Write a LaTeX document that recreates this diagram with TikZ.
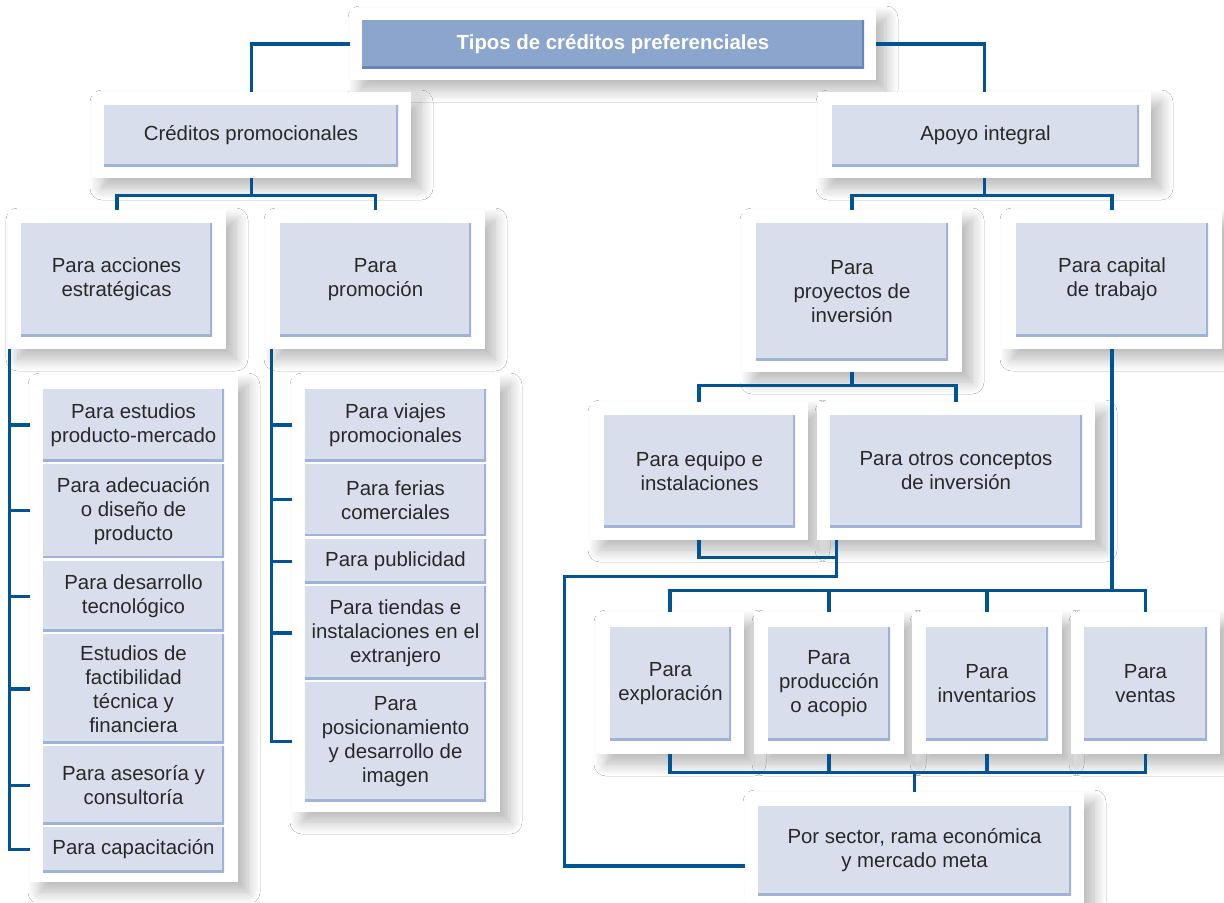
\documentclass[tikz,border=0pt]{standalone}
\usepackage{fontspec}
\setmainfont{Liberation Sans}
\usepackage{tikz}
\usetikzlibrary{positioning, shadows.blur}
\definecolor{linkblue}{RGB}{0,84,147}
\definecolor{cellfill}{RGB}{217,222,236}
\definecolor{celledge}{RGB}{160,178,214}
\definecolor{topfill}{RGB}{139,165,204}
\definecolor{topedge}{RGB}{104,134,186}
\definecolor{textgray}{RGB}{40,40,40}

\tikzset{
  frame/.style={fill=white, inner sep=0pt,
    blur shadow={shadow xshift=5pt, shadow yshift=-5pt, shadow blur steps=12,
                 shadow blur radius=6pt, shadow opacity=28}},
  cell/.style={fill=cellfill, text=textgray, align=center, inner sep=0pt,
    font=\fontsize{10.2}{12}\selectfont,
    path picture={\draw[celledge, line width=2.2pt]
      (path picture bounding box.south west) -- (path picture bounding box.south east)
      -- (path picture bounding box.north east);}},
  topcell/.style={cell, fill=topfill, text=white, font=\bfseries\fontsize{10.2}{12}\selectfont,
    path picture={\draw[topedge, line width=2.2pt]
      (path picture bounding box.south west) -- (path picture bounding box.south east)
      -- (path picture bounding box.north east);}},
  link/.style={draw=linkblue, line width=1.6pt}
}

\begin{document}
\begin{tikzpicture}[x=0.5pt, y=-0.5pt]
  \useasboundingbox (0,0) rectangle (1224,902);
  \clip (0,0) rectangle (1224,902);
  \fill[white] (0,0) rectangle (1224,902);

  % Title
  \node[frame, minimum width=263pt, minimum height=36pt] (fTop) at (613,44) {};
  \node[topcell, minimum width=251pt, minimum height=24pt] (cTop) at (613,44)
    {Tipos de créditos preferenciales};

  % First level
  \node[frame, minimum width=159.5pt, minimum height=43pt] (fCP) at (251.5,135) {};
  \node[cell, minimum width=147pt, minimum height=30.5pt] (cCP) at (251,135.5)
    {Créditos promocionales};
  \node[frame, minimum width=166.5pt, minimum height=43pt] (fAI) at (984.5,135) {};
  \node[cell, minimum width=153.5pt, minimum height=30.5pt] (cAI) at (985.5,135.5)
    {Apoyo integral};

  % Second level
  \node[frame, minimum width=109pt, minimum height=69.5pt] (fAcc) at (117,279.5) {};
  \node[cell, minimum width=95.5pt, minimum height=56.5pt] (cAcc) at (116.5,279.5)
    {Para acciones\\estratégicas};
  \node[frame, minimum width=109.5pt, minimum height=69.5pt] (fProm) at (375.5,279.5) {};
  \node[cell, minimum width=95.5pt, minimum height=56.5pt] (cProm) at (375.5,279.5)
    {Para\\promoción};
  \node[frame, minimum width=110pt, minimum height=81pt] (fProy) at (852,291) {};
  \node[cell, minimum width=96pt, minimum height=68.5pt] (cProy) at (852,291.5)
    {Para\\proyectos de\\inversión};
  \node[frame, minimum width=110pt, minimum height=69.5pt] (fCap) at (1112,279.5) {};
  \node[cell, minimum width=96pt, minimum height=56.5pt] (cCap) at (1112,279.5)
    {Para capital\\de trabajo};

  % Strategic actions list
  \node[frame, minimum width=104pt, minimum height=253.5pt] (fLeft) at (134,628.5) {};
  \node[cell, minimum width=90.5pt, minimum height=36pt] (lc1) at (133.5,425)
    {Para estudios\\producto-mercado};
  \node[cell, minimum width=90.5pt, minimum height=47pt, below=1pt of lc1] (lc2)
    {Para adecuación\\o diseño de\\producto};
  \node[cell, minimum width=90.5pt, minimum height=35.5pt, below=1pt of lc2] (lc3)
    {Para desarrollo\\tecnológico};
  \node[cell, minimum width=90.5pt, minimum height=54.5pt, below=1pt of lc3] (lc4)
    {Estudios de\\factibilidad\\técnica y\\financiera};
  \node[cell, minimum width=90.5pt, minimum height=39pt, below=1pt of lc4] (lc5)
    {Para asesoría y\\consultoría};
  \node[cell, minimum width=90.5pt, minimum height=22.5pt, below=1pt of lc5] (lc6)
    {Para capacitación};

  % Promotion list
  \node[frame, minimum width=104pt, minimum height=218.5pt] (fMid) at (396,593.5) {};
  \node[cell, minimum width=90.5pt, minimum height=36pt] (mc1) at (395.5,425)
    {Para viajes\\promocionales};
  \node[cell, minimum width=90.5pt, minimum height=36pt, below=1pt of mc1] (mc2)
    {Para ferias\\comerciales};
  \node[cell, minimum width=90.5pt, minimum height=22.5pt, below=1pt of mc2] (mc3)
    {Para publicidad};
  \node[cell, minimum width=90.5pt, minimum height=46.5pt, below=1pt of mc3] (mc4)
    {Para tiendas e\\instalaciones en el\\extranjero};
  \node[cell, minimum width=90.5pt, minimum height=59.5pt, below=1pt of mc4] (mc5)
    {Para\\posicionamiento\\y desarrollo de\\imagen};

  % Investment projects
  \node[frame, minimum width=109pt, minimum height=69pt] (fEq) at (699,471) {};
  \node[cell, minimum width=95.5pt, minimum height=56pt] (cEq) at (699.5,471)
    {Para equipo e\\instalaciones};
  \node[frame, minimum width=139pt, minimum height=69pt] (fOtros) at (956,471) {};
  \node[cell, minimum width=126pt, minimum height=56pt] (cOtros) at (956,471)
    {Para otros conceptos\\de inversión};

  % Working capital
  \node[frame, minimum width=74pt, minimum height=71pt] (fExp) at (670,683) {};
  \node[cell, minimum width=60.5pt, minimum height=56.5pt] (cExp) at (670.5,683.5)
    {Para\\exploración};
  \node[frame, minimum width=75pt, minimum height=71pt] (fProd) at (829,683) {};
  \node[cell, minimum width=61pt, minimum height=56.5pt] (cProd) at (829,683.5)
    {Para\\producción\\o acopio};
  \node[frame, minimum width=75pt, minimum height=71pt] (fInv) at (987,683) {};
  \node[cell, minimum width=61pt, minimum height=56.5pt] (cInv) at (987,683.5)
    {Para\\inventarios};
  \node[frame, minimum width=74.5pt, minimum height=71pt] (fVen) at (1145.5,683) {};
  \node[cell, minimum width=61.5pt, minimum height=56.5pt] (cVen) at (1145.5,683.5)
    {Para\\ventas};

  % Sector
  \node[frame, minimum width=169.5pt, minimum height=59pt] (fSector) at (914.5,851) {};
  \node[cell, minimum width=156.5pt, minimum height=44.5pt] (cSector) at (914.5,850.5)
    {Por sector, rama económica\\y mercado meta};

  % Connectors
  \draw[link] (fTop.west) -| (fCP.north);
  \draw[link] (fTop.east) -| (fAI.north);
  \draw[link] (fCP.south) -- ++(0,18);
  \draw[link] (fAcc.north) -- ++(0,-14) -| (fProm.north);
  \draw[link] (fAI.south) -- ++(0,18);
  \draw[link] (fProy.north) -- ++(0,-14) -| (fCap.north);

  \coordinate (barL) at ([xshift=1pt]fAcc.south west);
  \draw[link] (barL) |- (fLeft.west |- lc6.west);
  \foreach \c in {lc1,lc2,lc3,lc4,lc5}
    \draw[link] (barL |- \c.west) -- (fLeft.west |- \c.west);

  \coordinate (barM) at ([xshift=3pt]fProm.south west);
  \draw[link] (barM) |- (fMid.west |- mc5.west);
  \foreach \c in {mc1,mc2,mc3,mc4}
    \draw[link] (barM |- \c.west) -- (fMid.west |- \c.west);

  \draw[link] (fProy.south) -- ++(0,14);
  \draw[link] (fEq.north) -- ++(0,-16) -| (fOtros.north);

  \coordinate (jn) at ([xshift=10pt]fOtros.south west);
  \coordinate (sectorIn) at ([yshift=-7.5pt]fSector.west);
  \draw[link] (fEq.south) -- ++(0,17) -| (jn);
  \draw[link] (jn) -- ++(0,36) -- ++(-272,0) |- (sectorIn);

  \draw[link] (fCap.south) -- ++(0,242);
  \draw[link] (fExp.north) -- ++(0,-21) -| (fVen.north);
  \foreach \f in {fProd,fInv}
    \draw[link] (\f.north) -- ++(0,-21);
  \draw[link] (fExp.south) -- ++(0,18) -| (fVen.south);
  \foreach \f in {fProd,fInv}
    \draw[link] (\f.south) -- ++(0,18);
  \draw[link] (fSector.north) -- ++(0,-20);
\end{tikzpicture}
\end{document}
